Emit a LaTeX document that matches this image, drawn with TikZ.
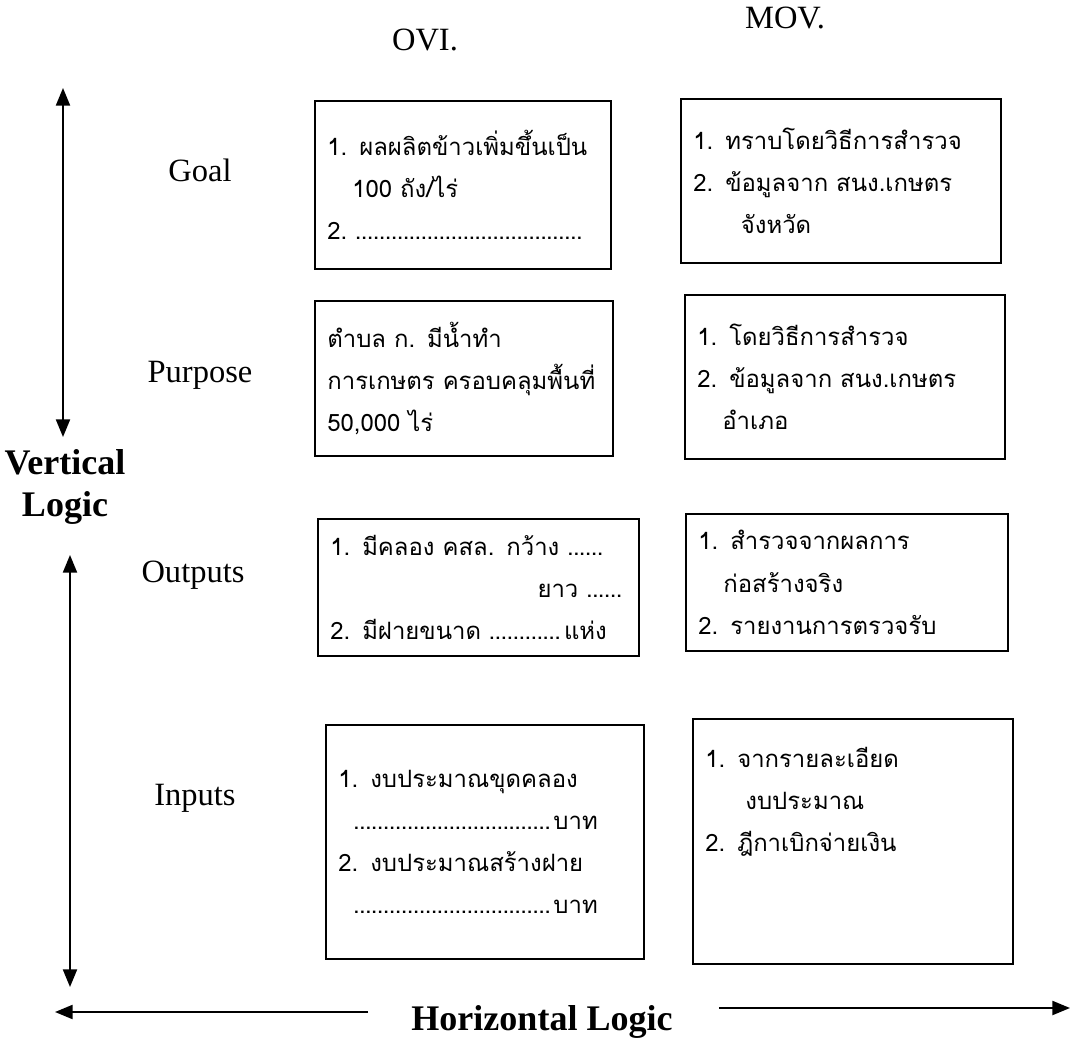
\documentclass[tikz,border=0pt]{standalone}
\usepackage{fontspec}
\setmainfont{Liberation Serif}
\newfontfamily\thaifont[Script=Thai]{Loma}
\usepackage{tikz}
\usetikzlibrary{arrows.meta, positioning}
\newcommand{\dotrun}{\leavevmode\leaders\hbox to 3.4pt{\hss.\hss}\hfill\kern0pt}
\newcommand{\blank}[1]{\makebox[#1]{\dotrun}}
\tikzset{
  lfbox/.style={
    rectangle, draw=black, line width=1pt,
    anchor=north west, inner xsep=0.25cm,
    align=left, font=\thaifont\fontsize{13.6}{24}\selectfont
  },
  rowlabel/.style={font=\fontsize{18.5}{22}\selectfont},
  logiclabel/.style={font=\bfseries\fontsize{20.5}{24}\selectfont, align=center},
  logicarrow/.style={line width=1pt, {Triangle[width=8pt,length=10pt]}-{Triangle[width=8pt,length=10pt]}},
  sidearrow/.style={line width=1pt, -{Triangle[width=8pt,length=10pt]}},
}

\begin{document}
\begin{tikzpicture}[x=0.02cm, y=-0.02cm]
      \useasboundingbox (0,0) rectangle (1076,1048);
      % column heads
      \node[rowlabel](ovi) at (425,40) {OVI.};
      \node[rowlabel](mov) at (785,18) {MOV.};
      % row labels
      \node[rowlabel](goal) at (200,170) {Goal};
      \node[rowlabel](purpose) at (200,375) {Purpose};
      \node[rowlabel](outputs) at (193,575) {Outputs};
      \node[rowlabel](inputs) at (195,798) {Inputs};
      \node[logiclabel](vlogic) at (65,487) {Vertical\\Logic};
      \node[logiclabel](hlogic) at (542,1022) {Horizontal Logic};
      % OVI column
      \node[lfbox, text width=5.42cm, minimum height=3.36cm](goalovi) at (314,100)
        {1. ผลผลิตข้าวเพิ่มขึ้นเป็น\\ \hspace*{0.5cm}100 ถัง/ไร่\\ 2.~\blank{4.6cm}};
      \node[lfbox, text width=5.46cm, minimum height=3.1cm](purpovi) at (314,300)
        {ตำบล ก. มีน้ำทำ\\ การเกษตร ครอบคลุมพื้นที่\\ 50,000 ไร่};
      \node[lfbox, text width=5.92cm, minimum height=2.74cm](outovi) at (317,518)
        {1. มีคลอง คสล. กว้าง \blank{0.8cm}\\ \hfill ยาว \blank{0.8cm}\\ 2. มีฝายขนาด \blank{1.5cm}แห่ง};
      \node[lfbox, text width=5.86cm, minimum height=4.68cm](inovi) at (325,724)
        {1. งบประมาณขุดคลอง\\ \hspace*{0.3cm}\blank{4cm}บาท\\ 2. งบประมาณสร้างฝาย\\ \hspace*{0.3cm}\blank{4cm}บาท};
      % MOV column
      \node[lfbox, text width=5.9cm, minimum height=3.28cm](goalmov) at (680,98)
        {1. ทราบโดยวิธีการสำรวจ\\ 2. ข้อมูลจาก สนง.เกษตร\\ \hspace*{0.95cm}จังหวัด};
      \node[lfbox, text width=5.9cm, minimum height=3.28cm](purpmov) at (684,294)
        {1. โดยวิธีการสำรวจ\\ 2. ข้อมูลจาก สนง.เกษตร\\ \hspace*{0.5cm}อำเภอ};
      \node[lfbox, text width=5.94cm, minimum height=2.74cm](outmov) at (685,513)
        {1. สำรวจจากผลการ\\ \hspace*{0.5cm}ก่อสร้างจริง\\ 2. รายงานการตรวจรับ};
      \node[lfbox, text width=5.9cm, minimum height=4.9cm](inmov) at (692,718)
        {1. จากรายละเอียด\\ \hspace*{0.8cm}งบประมาณ\\ 2. ฎีกาเบิกจ่ายเงิน\\ \mbox{}\\ \mbox{}};
      % logic arrows
      \coordinate(vtop) at (63,88);
      \coordinate(vmida) at (63,437);
      \coordinate(vmidb) at (70,555);
      \coordinate(vbot) at (70,987);
      \coordinate(hleft) at (55,1012);
      \coordinate(hright) at (1070,1008);
      \draw[logicarrow](vtop)--(vmida);
      \draw[logicarrow](vmidb)--(vbot);
      \draw[sidearrow](hlogic.west |- hleft) ++(-37,0) coordinate(hla) -- (hleft);
      \draw[sidearrow](hlogic.east |- hright) ++(40,0) coordinate(hra) -- (hright);
    \end{tikzpicture}
\end{document}
